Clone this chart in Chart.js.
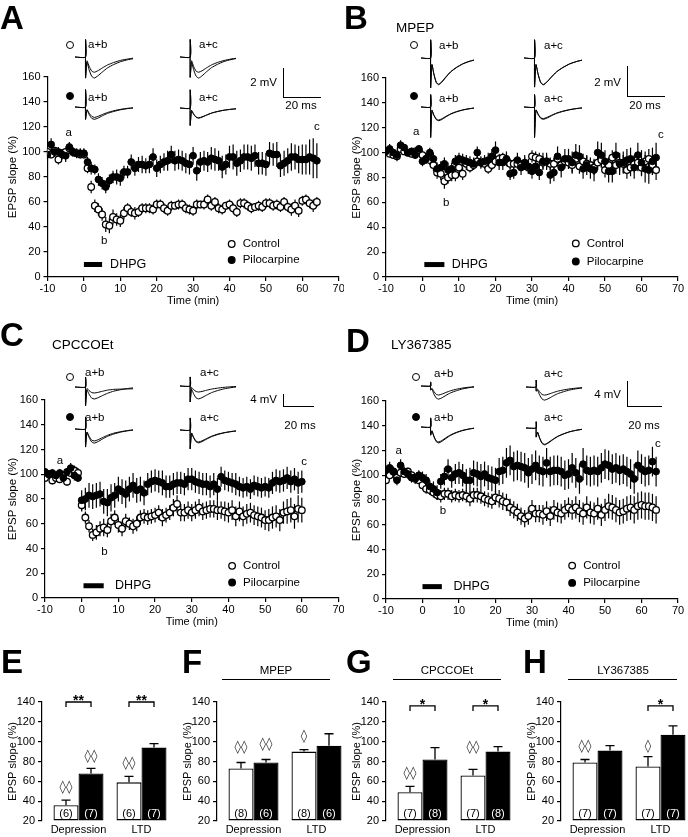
<!DOCTYPE html>
<html>
<head>
<meta charset="utf-8">
<script src="https://cdn.jsdelivr.net/npm/chart.js@4.4.0/dist/chart.umd.min.js"></script>
<style>
body { margin: 0; background: #fff; width: 688px; height: 837px; position: relative; overflow: hidden; font-family: "Liberation Sans", Arial, sans-serif; }
canvas { position: absolute; }
.txt { position: absolute; white-space: nowrap; line-height: 1; color: #000; }
.dot { position: absolute; width: 6px; height: 6px; border: 1.3px solid #000; border-radius: 50%; transform: translate(-50%, -50%); }
.bar { position: absolute; border-left: 1.3px solid #000; border-bottom: 1.3px solid #000; }
.rule { position: absolute; height: 0; border-top: 1.2px solid #000; }
</style>
</head>
<body>
<script>
// ---- time course data (min, % of baseline) ----
const TIME_MAIN = [-10,-9,-8,-7,-6,-5,-4,-3,-2,-1,0,1,2,3,4,5,6,7,8,9,10,11,12,13,14,15,16,17,18,19,20,21,22,23,24,25,26,27,28,29,30,31,32,33,34,35,36,37,38,39,40,41,42,43,44,45,46,47,48,49,50,51,52,53,54,55,56,57,58,59,60,61,62,63,64];
const TIME_C = [-10,-9,-8,-7,-6,-5,-4,-3,-2,-1,0,1,2,3,4,5,6,7,8,9,10,11,12,13,14,15,16,17,18,19,20,21,22,23,24,25,26,27,28,29,30,31,32,33,34,35,36,37,38,39,40,41,42,43,44,45,46,47,48,49,50,51,52,53,54,55,56,57,58,59,60];

const A_CTRL = [100,98,101,94,99,100,103,100,99,98, 98,87,72,57,54,50,42,41,48,46, 45,51,55,52,51,52,55,55,55,54, 58,58,55,53,57,57,58,58,55,54, 53,58,58,58,62,57,60,55,54,57, 58,55,52,59,59,57,55,56,57,56, 59,59,57,58,56,60,56,54,57,53, 61,62,59,57,60];
const A_CTRL_ERR = [3,3,3,4,3,3,3,3,3,3, 3,4,5,5,5,5,6,6,6,5, 5,5,4,4,5,4,4,4,4,4, 4,4,4,4,4,3,4,4,4,4, 4,4,3,4,4,4,4,4,4,3, 4,4,4,4,4,4,4,3,4,4, 4,4,4,4,4,4,4,5,5,5, 4,4,4,5,4];
const A_PILO = [98,106,100,100,98,97,104,100,99,99, 99,92,87,86,78,75,72,77,80,80, 79,84,84,92,87,90,90,89,90,96, 87,90,92,93,98,93,94,93,91,90, 97,85,92,93,92,95,94,93,88,90, 96,96,91,93,96,96,95,97,91,91, 90,99,98,98,89,91,93,96,96,94, 94,94,96,95,93];
const A_PILO_ERR = [4,5,4,4,4,5,4,4,4,4, 4,4,5,4,5,5,5,5,5,6, 6,5,5,6,6,6,7,6,7,7, 7,7,7,8,7,8,8,8,8,8, 7,8,8,8,8,9,9,8,9,8, 9,10,10,9,10,10,10,9,9,9, 9,9,9,10,9,10,10,11,10,11, 12,12,14,16,14];

const B_CTRL = [101,99,98,97,103,101,100,99,101,102, 98,95,94,90,84,83,77,80,82,82, 88,83,91,88,90,93,92,91,87,90, 93,95,96,94,91,91,91,90,91,88, 97,96,95,92,93,91,91,95,90,93, 92,90,95,89,93,91,90,88,92,94, 86,90,96,90,92,91,86,88,91,92, 88,93,95,90,86];
const B_CTRL_ERR = [3,3,3,4,3,3,3,3,3,3, 4,4,4,5,5,5,6,5,5,5, 6,5,5,4,4,4,4,4,4,4, 4,4,4,4,4,4,4,4,5,5, 5,5,5,5,5,5,5,5,5,5, 5,6,6,6,6,6,6,6,6,6, 6,6,6,7,7,7,7,7,7,7, 7,8,8,8,8];
const B_PILO = [101,103,100,98,106,104,100,101,98,103, 93,95,100,95,87,88,91,86,87,93, 95,94,93,92,91,100,92,93,94,97, 102,92,92,95,83,84,94,88,92,89, 85,89,84,93,93,82,84,97,88,95, 95,92,98,97,87,90,87,86,100,98, 93,85,85,98,91,92,94,95,88,98, 92,87,86,93,96];
const B_PILO_ERR = [3,4,3,3,4,3,3,3,3,3, 4,4,4,5,5,5,5,6,5,5, 5,5,5,5,5,5,5,5,6,6, 7,6,6,6,5,5,6,6,6,6, 6,6,6,7,7,7,7,8,8,8, 8,9,9,9,8,8,8,9,9,10, 9,9,9,10,9,9,9,9,9,10, 10,11,11,11,12];

const C_CTRL = [97,100,95,97,96,99,94,101,103,101, 75,65,58,51,53,56,57,55,62,65, 59,56,62,60,58,60,65,66,65,66, 67,69,65,67,69,73,76,69,69,71, 69,71,73,70,71,72,72,71,71,70, 69,71,66,70,66,68,69,67,66,65, 63,63,65,66,63,69,70,71,66,72,71];
const C_CTRL_ERR = [3,3,3,3,3,3,3,3,4,4, 5,5,5,5,6,6,7,6,6,6, 6,6,6,5,6,6,6,6,6,6, 6,6,7,6,6,7,7,7,7,7, 7,7,7,7,7,7,7,8,7,8, 8,8,8,8,8,8,8,8,8,8, 8,9,9,9,9,9,10,10,10,11,10];
const C_PILO = [102,100,101,99,101,97,102,105,99,97, 79,80,83,82,83,84,78,77,81,83, 88,86,84,88,91,87,88,85,92,94, 95,94,93,90,90,92,93,93,92,96, 96,94,93,92,92,90,92,88,98,95, 94,93,92,90,89,90,88,91,90,89, 90,89,93,95,94,95,97,94,96,93,94];
const C_PILO_ERR = [3,3,3,3,3,3,3,4,4,3, 8,9,10,10,10,10,10,11,11,10, 10,10,11,10,10,10,10,10,9,9, 9,9,10,9,9,9,9,9,9,9, 9,9,9,9,9,9,9,9,8,8, 8,8,9,8,8,8,8,8,8,8, 8,8,9,9,9,9,9,9,9,9,9];

const D_CTRL = [96,100,103,98,102,101,103,100,98,96, 92,89,88,86,84,83,85,85,83,84, 83,84,83,81,84,84,83,81,80,79, 82,81,79,78,74,72,70,67,65,67, 73,69,69,68,71,67,72,70,69,72, 74,72,74,71,69,74,70,69,73,68, 72,75,74,72,70,71,73,74,72,75, 76,75,75,74,72];
const D_CTRL_ERR = [3,3,3,3,3,3,3,3,3,3, 4,4,4,4,4,5,5,5,5,5, 5,5,5,6,6,6,6,6,6,6, 6,7,7,7,7,7,7,7,7,7, 7,7,7,8,8,8,8,8,8,8, 8,8,9,9,9,9,9,9,9,9, 9,10,10,10,10,10,10,10,11,11, 11,11,11,11,11];
const D_PILO = [104,106,103,96,108,103,101,98,97,100, 98,96,91,89,86,95,99,105,98,101, 102,100,96,96,102,101,99,101,98,97, 96,103,104,110,112,107,108,107,106,102, 105,108,104,103,110,103,104,104,103,100, 101,106,102,97,109,104,103,104,103,106, 109,108,105,106,104,105,103,101,97,108, 105,103,104,111,103];
const D_PILO_ERR = [4,5,4,4,5,4,4,4,4,4, 5,5,5,6,6,6,7,8,8,8, 9,9,9,10,10,10,10,10,10,10, 10,11,11,12,12,12,12,12,12,12, 12,12,12,12,12,12,12,12,12,12, 12,12,12,12,13,12,12,12,12,12, 12,12,12,12,12,12,12,12,12,12, 12,12,12,12,12];

const DHPG_LEVEL = 10;

// ---- example EPSP traces (ms, mV) ----
const TRACE_MS = [0, 6, 6, 6, 6.8, 8, 9.5, 11, 13, 15.5, 18.5, 22, 26, 30, 33];
const A_CTRL_AB = [[0,0,1.2,-1.45,-0.36,-0.87,-1.33,-1.45,-1.3,-1.04,-0.75,-0.52,-0.32,-0.19,-0.12],
                   [0,0,1.2,-1.45,-0.26,-0.63,-0.97,-1.05,-0.95,-0.76,-0.55,-0.38,-0.23,-0.14,-0.08]];
const A_CTRL_AC = [[0,0,1.2,-1.4,-0.36,-0.86,-1.32,-1.45,-1.3,-1.03,-0.74,-0.51,-0.31,-0.18,-0.11],
                   [0,0,1.2,-1.4,-0.26,-0.64,-0.98,-1.05,-0.95,-0.76,-0.55,-0.38,-0.24,-0.14,-0.09]];
const A_PILO_AB = [[0,0,1.2,-0.85,-0.21,-0.51,-0.78,-0.85,-0.77,-0.61,-0.44,-0.31,-0.19,-0.11,-0.07],
                   [0,0,1.2,-0.85,-0.18,-0.42,-0.64,-0.72,-0.65,-0.52,-0.38,-0.26,-0.16,-0.09,-0.06]];
const A_PILO_AC = [[0,0,1.25,-1.2,-0.18,-0.42,-0.64,-0.7,-0.63,-0.5,-0.36,-0.25,-0.15,-0.09,-0.06],
                   [0,0,1.25,-1.2,-0.17,-0.41,-0.62,-0.68,-0.61,-0.49,-0.35,-0.24,-0.15,-0.09,-0.05]];
const B_CTRL_AB = [[0,0,1.25,-2.05,-0.46,-1.11,-1.7,-1.85,-1.67,-1.33,-0.96,-0.67,-0.41,-0.24,-0.15],
                   [0,0,1.25,-2.05,-0.45,-1.08,-1.66,-1.8,-1.62,-1.3,-0.94,-0.65,-0.4,-0.23,-0.14]];
const B_CTRL_AC = [[0,0,1.25,-2.0,-0.46,-1.11,-1.7,-1.85,-1.67,-1.33,-0.96,-0.67,-0.41,-0.24,-0.15],
                   [0,0,1.25,-2.0,-0.45,-1.1,-1.68,-1.83,-1.65,-1.32,-0.95,-0.66,-0.4,-0.24,-0.15]];
const B_PILO_AB = [[0,0,0.85,-2.1,-0.24,-0.57,-0.87,-0.95,-0.86,-0.68,-0.49,-0.34,-0.21,-0.12,-0.08],
                   [0,0,0.85,-2.1,-0.23,-0.54,-0.83,-0.9,-0.81,-0.65,-0.47,-0.32,-0.2,-0.12,-0.07]];
const B_PILO_AC = [[0,0,0.85,-2.1,-0.21,-0.51,-0.78,-0.85,-0.77,-0.61,-0.44,-0.31,-0.19,-0.11,-0.07],
                   [0,0,0.85,-2.1,-0.2,-0.48,-0.74,-0.8,-0.72,-0.58,-0.42,-0.29,-0.18,-0.1,-0.06]];
const C_CTRL_AB = [[0,0,3.3,-6.3,-1.0,-2.4,-3.7,-4.0,-3.6,-2.9,-2.1,-1.4,-0.9,-0.5,-0.3],
                   [0,0,3.3,-6.3,-0.5,-1.2,-1.84,-2.0,-1.8,-1.44,-1.04,-0.8,-0.7,-0.65,-0.6]];
const C_CTRL_AC = [[0,0,3.0,-5.3,-1.08,-2.58,-3.96,-4.3,-3.87,-3.1,-2.24,-1.55,-0.95,-0.56,-0.34],
                   [0,0,3.0,-5.3,-0.5,-1.2,-1.84,-2.0,-1.8,-1.44,-1.04,-0.72,-0.44,-0.26,-0.16]];
const C_PILO_AB = [[0,0,4.0,-6.0,-1.18,-2.82,-4.32,-4.7,-4.23,-3.38,-2.44,-1.69,-1.03,-0.61,-0.38],
                   [0,0,4.0,-6.0,-1.0,-2.4,-3.7,-4.0,-3.6,-2.9,-2.1,-1.4,-0.9,-0.5,-0.3]];
const C_PILO_AC = [[0,0,4.0,-6.3,-1.08,-2.58,-3.96,-4.3,-3.87,-3.1,-2.24,-1.55,-0.95,-0.56,-0.34],
                   [0,0,4.0,-6.3,-1.0,-2.4,-3.7,-4.0,-3.6,-2.9,-2.1,-1.4,-0.9,-0.5,-0.3]];
const D_CTRL_AB = [[0,0,0.65,-0.65,-0.53,-1.26,-1.93,-2.1,-1.89,-1.51,-1.09,-0.76,-0.46,-0.27,-0.17],
                   [0,0,0.65,-0.65,-0.36,-0.87,-1.33,-1.45,-1.3,-1.04,-0.75,-0.52,-0.32,-0.19,-0.12]];
const D_CTRL_AC = [[0,0,1.1,-0.65,-0.53,-1.26,-1.93,-2.1,-1.89,-1.51,-1.09,-0.76,-0.46,-0.27,-0.17],
                   [0,0,1.1,-0.65,-0.33,-0.78,-1.2,-1.3,-1.17,-0.94,-0.68,-0.47,-0.29,-0.17,-0.1]];
const D_PILO_AB = [[0,0,1.45,-1.3,-0.64,-1.53,-2.35,-2.55,-2.3,-1.84,-1.33,-0.92,-0.56,-0.33,-0.2],
                   [0,0,1.45,-1.3,-0.6,-1.44,-2.21,-2.4,-2.16,-1.73,-1.25,-0.86,-0.53,-0.31,-0.19]];
const D_PILO_AC = [[0,0,1.0,-1.45,-0.68,-1.62,-2.48,-2.7,-2.43,-1.94,-1.4,-0.97,-0.59,-0.35,-0.22],
                   [0,0,1.0,-1.45,-0.65,-1.56,-2.39,-2.6,-2.34,-1.87,-1.35,-0.94,-0.57,-0.34,-0.21]];

// ---- summary bars (mean, SEM, n) ----
const BAR_GROUPS = ['Depression', 'LTD'];
const E_CTRL = [36, 59], E_CTRL_SEM = [5, 6], E_CTRL_N = [6, 6];
const E_PILO = [68, 94], E_PILO_SEM = [5, 4], E_PILO_N = [7, 7];
const F_CTRL = [73, 90], F_CTRL_SEM = [6, 2], F_CTRL_N = [8, 8];
const F_PILO = [79, 96], F_PILO_SEM = [3, 12], F_PILO_N = [6, 6];
const G_CTRL = [49, 66], G_CTRL_SEM = [6, 6], G_CTRL_N = [7, 7];
const G_PILO = [82, 90], G_PILO_SEM = [12, 5], G_PILO_N = [8, 8];
const H_CTRL = [79, 75], H_CTRL_SEM = [3, 10], H_CTRL_N = [7, 7];
const H_PILO = [91, 107], H_PILO_SEM = [5, 9], H_PILO_N = [7, 7];

Chart.defaults.font.family = "'Liberation Sans', Arial, sans-serif";
Chart.defaults.font.size = 11;
Chart.defaults.color = '#000';

function addCanvas(x, y, w, h) {
    const c = document.createElement('canvas');
    c.width = w; c.height = h;
    c.style.left = x + 'px'; c.style.top = y + 'px';
    c.style.width = w + 'px'; c.style.height = h + 'px';
    document.body.appendChild(c);
    return c;
}

const texts = [];
function addText(str, x, y, size, align, bold) {
    texts.push(() => {
        const el = document.createElement('div');
        el.className = 'txt';
        el.textContent = str;
        el.style.fontSize = size + 'px';
        if (bold) el.style.fontWeight = 'bold';
        el.style.left = x + 'px';
        el.style.top = y + 'px';
        const tx = align === 'center' ? '-50%' : align === 'right' ? '-100%' : '0';
        el.style.transform = `translate(${tx}, -50%)`;
        document.body.appendChild(el);
    });
}
function addDot(x, y, filled) {
    texts.push(() => {
        const el = document.createElement('div');
        el.className = 'dot';
        el.style.left = x + 'px'; el.style.top = y + 'px';
        el.style.background = filled ? '#000' : '#fff';
        document.body.appendChild(el);
    });
}
function addScaleBar(x, y1, y2, x2) {
    texts.push(() => {
        const el = document.createElement('div');
        el.className = 'bar';
        el.style.left = x + 'px'; el.style.top = y1 + 'px';
        el.style.width = (x2 - x) + 'px'; el.style.height = (y2 - y1) + 'px';
        document.body.appendChild(el);
    });
}
function addRule(x1, x2, y) {
    texts.push(() => {
        const el = document.createElement('div');
        el.className = 'rule';
        el.style.left = x1 + 'px'; el.style.top = y + 'px'; el.style.width = (x2 - x1) + 'px';
        document.body.appendChild(el);
    });
}

const pts = (xs, ys) => xs.map((x, i) => ({ x: x, y: ys[i] }));

// error bars for time courses, drawn under the markers
const errorBarPlugin = {
    id: 'errorBars',
    beforeDatasetsDraw(chart) {
        const { ctx, scales: { x, y } } = chart;
        ctx.save();
        ctx.strokeStyle = '#000';
        ctx.lineWidth = 1.2;
        chart.data.datasets.forEach(ds => {
            if (!ds.errors) return;
            ds.data.forEach((pt, j) => {
                const e = ds.errors[j];
                const px = x.getPixelForValue(pt.x);
                ctx.beginPath();
                ctx.moveTo(px, y.getPixelForValue(pt.y - e));
                ctx.lineTo(px, y.getPixelForValue(pt.y + e));
                ctx.stroke();
            });
        });
        ctx.restore();
    }
};

function timeChart(p) {
    const box = p.box, area = p.area;
    const cv = addCanvas(box.x, box.y, box.w, box.h);
    const notes = {
        id: 'notes',
        afterDatasetsDraw(chart) {
            const { ctx, scales: { x, y } } = chart;
            ctx.save();
            ctx.fillStyle = '#000';
            ctx.textBaseline = 'middle';
            ctx.font = "11.5px 'Liberation Sans', Arial";
            ctx.textAlign = 'center';
            p.marks.forEach(m => ctx.fillText(m[0], x.getPixelForValue(m[1]), y.getPixelForValue(m[2])));
            ctx.textAlign = 'left';
            ctx.font = "12.5px 'Liberation Sans', Arial";
            ctx.fillText('DHPG', x.getPixelForValue(p.dhpgLabel), y.getPixelForValue(DHPG_LEVEL));
            // legend
            ctx.font = "11.5px 'Liberation Sans', Arial";
            const lx = x.getPixelForValue(p.legend[0]);
            [['Control', p.legend[1], '#fff'], ['Pilocarpine', p.legend[2], '#000']].forEach(r => {
                const ly = y.getPixelForValue(r[1]);
                ctx.beginPath();
                ctx.arc(lx, ly, 3.3, 0, Math.PI * 2);
                ctx.fillStyle = r[2]; ctx.fill();
                ctx.lineWidth = 1.3; ctx.strokeStyle = '#000'; ctx.stroke();
                ctx.fillStyle = '#000';
                ctx.fillText(r[0], lx + 11, ly);
            });
            ctx.restore();
        }
    };
    new Chart(cv, {
        type: 'scatter',
        data: {
            datasets: [
                { label: 'Pilocarpine', data: pts(p.time, p.pilo), errors: p.piloErr, backgroundColor: '#000', borderColor: '#000', borderWidth: 1, pointRadius: 3.4, order: 0 },
                { label: 'Control', data: pts(p.time, p.ctrl), errors: p.ctrlErr, backgroundColor: '#fff', borderColor: '#000', borderWidth: 1.3, pointRadius: 3.3, order: 1 },
                { label: 'DHPG', type: 'line', data: [{ x: p.dhpg[0], y: DHPG_LEVEL }, { x: p.dhpg[1], y: DHPG_LEVEL }], borderColor: '#000', borderWidth: 5, pointRadius: 0, borderCapStyle: 'butt', order: 2 }
            ]
        },
        options: {
            responsive: false, animation: false, devicePixelRatio: 1, events: [],
            layout: { padding: { top: area.t - box.y, right: box.x + box.w - area.r, left: 0, bottom: 0 } },
            plugins: { legend: { display: false }, tooltip: { enabled: false } },
            scales: {
                x: {
                    type: 'linear', min: -10, max: 70,
                    ticks: { stepSize: 10, padding: 1, maxRotation: 0, autoSkip: false, font: { size: 11 } },
                    grid: { drawOnChartArea: false, tickLength: 4, color: '#000', lineWidth: 1.2 },
                    border: { color: '#000', width: 1.2 },
                    title: { display: true, text: 'Time (min)', font: { size: 11 }, padding: 0 },
                    afterFit: s => { s.height = box.y + box.h - area.b; s.paddingLeft = 0; s.paddingRight = 0; }
                },
                y: {
                    min: 0, max: 160,
                    ticks: { stepSize: 20, padding: 3, font: { size: 11 } },
                    grid: { drawOnChartArea: false, tickLength: 4, color: '#000', lineWidth: 1.2 },
                    border: { color: '#000', width: 1.2 },
                    title: { display: true, text: 'EPSP slope (%)', font: { size: 11.5 }, padding: { top: 6, bottom: 0 } },
                    afterFit: s => { s.width = area.l - box.x; s.paddingTop = 0; s.paddingBottom = 0; }
                }
            }
        },
        plugins: [errorBarPlugin, notes]
    });
}

function traceChart(x, base, w, pxPerMv, traces) {
    const up = 24, h = 60;
    const cv = addCanvas(x, base - up, w, h);
    new Chart(cv, {
        type: 'scatter',
        data: {
            datasets: traces.map(tr => ({
                data: pts(TRACE_MS, tr), showLine: true, pointRadius: 0,
                borderColor: '#000', borderWidth: 1, tension: 0.2, clip: false
            }))
        },
        options: {
            responsive: false, animation: false, devicePixelRatio: 1, events: [],
            layout: { padding: 0 },
            plugins: { legend: { display: false }, tooltip: { enabled: false } },
            scales: {
                x: { type: 'linear', display: false, min: 0, max: TRACE_MS[TRACE_MS.length - 1] },
                y: { display: false, min: -(h - up) / pxPerMv, max: up / pxPerMv }
            }
        }
    });
}

// bar panels: first group centre 36.5 px right of the axis, groups 63 px apart
const BAR_FIRST = 36.5, BAR_STEP = 63, BAR_WIDTH = 127, BAR_GROUP_W = 50;
function barChart(p) {
    const box = { x: p.axis - 42, y: 640, w: Math.min(170, 688 - (p.axis - 42)), h: 197 };
    const area = { l: p.axis, r: p.axis + BAR_WIDTH, t: 702, b: 821 };
    const cv = addCanvas(box.x, box.y, box.w, box.h);
    const xmin = -BAR_FIRST / BAR_STEP;
    const notes = {
        id: 'barNotes',
        afterDatasetsDraw(chart) {
            const { ctx, scales: { y } } = chart;
            const m0 = chart.getDatasetMeta(0), m1 = chart.getDatasetMeta(1);
            const sems = [p.ctrlSem, p.piloSem], ns = [p.ctrlN, p.piloN];
            ctx.save();
            ctx.strokeStyle = '#000'; ctx.lineWidth = 1.3;
            [m0, m1].forEach((m, s) => m.data.forEach((bar, g) => {
                const top = y.getPixelForValue(chart.data.datasets[s].data[g].y + sems[s][g]);
                ctx.beginPath();
                ctx.moveTo(bar.x, bar.y); ctx.lineTo(bar.x, top);
                ctx.moveTo(bar.x - 4.5, top); ctx.lineTo(bar.x + 4.5, top);
                ctx.stroke();
                ctx.fillStyle = s ? '#fff' : '#000';
                ctx.font = "11px 'Liberation Sans', Arial";
                ctx.textAlign = 'center'; ctx.textBaseline = 'middle';
                ctx.fillText('(' + ns[s][g] + ')', bar.x, y.getPixelForValue(27));
            }));
            ctx.fillStyle = '#333';
            ctx.font = "13px 'DejaVu Sans', sans-serif";
            ctx.textAlign = 'center'; ctx.textBaseline = 'middle';
            p.diamonds.forEach(d => {
                const bar = [m0, m1][d[1]].data[d[0]];
                ctx.fillText(d[3], bar.x, y.getPixelForValue(d[2]));
            });
            ctx.fillStyle = '#000';
            ctx.font = "bold 14px 'Liberation Sans', Arial";
            p.stars.forEach(st => {
                const a = m0.data[st[0]].x, b = m1.data[st[0]].x;
                const yy = y.getPixelForValue(st[1]);
                ctx.beginPath();
                ctx.moveTo(a, yy + 5); ctx.lineTo(a, yy); ctx.lineTo(b, yy); ctx.lineTo(b, yy + 5);
                ctx.stroke();
                ctx.textBaseline = 'alphabetic';
                ctx.fillText(st[2], (a + b) / 2, yy + 3);
            });
            ctx.restore();
        }
    };
    const ds = (vals, fill) => ({
        data: vals.map((v, i) => ({ x: i, y: v })), base: 20,
        backgroundColor: fill, borderColor: '#000', borderWidth: 1.3, borderSkipped: false,
        categoryPercentage: BAR_GROUP_W / BAR_STEP, barPercentage: 1, clip: false
    });
    new Chart(cv, {
        type: 'bar',
        data: { datasets: [ds(p.ctrl, '#fff'), ds(p.pilo, '#000')] },
        options: {
            responsive: false, animation: false, devicePixelRatio: 1, events: [],
            layout: { padding: { top: area.t - box.y, right: box.x + box.w - area.r, left: 0, bottom: 0 } },
            plugins: { legend: { display: false }, tooltip: { enabled: false } },
            scales: {
                x: {
                    type: 'linear', offset: false, min: xmin, max: xmin + BAR_WIDTH / BAR_STEP,
                    afterBuildTicks: s => { s.ticks = BAR_GROUPS.map((g, i) => ({ value: i })); },
                    ticks: { callback: v => BAR_GROUPS[v], padding: 2, maxRotation: 0, autoSkip: false, font: { size: 11 } },
                    grid: { display: false, drawTicks: false },
                    border: { display: false },
                    afterFit: s => { s.height = box.y + box.h - area.b; s.paddingLeft = 0; s.paddingRight = 0; }
                },
                y: {
                    min: 20, max: 140,
                    ticks: { stepSize: 20, padding: 3, font: { size: 11 } },
                    grid: { drawOnChartArea: false, tickLength: 4, color: '#000', lineWidth: 1.2 },
                    border: { color: '#000', width: 1.2 },
                    title: { display: true, text: 'EPSP slope (%)', font: { size: 11 }, padding: { top: 6, bottom: 0 } },
                    afterFit: s => { s.width = area.l - box.x; s.paddingTop = 0; s.paddingBottom = 0; }
                }
            }
        },
        plugins: [notes]
    });
}

// ---- panels A-D ----
timeChart({ box: { x: 0, y: 0, w: 344, h: 308 }, area: { l: 47.5, r: 341.5, t: 77, b: 277 },
    time: TIME_MAIN, ctrl: A_CTRL, ctrlErr: A_CTRL_ERR, pilo: A_PILO, piloErr: A_PILO_ERR,
    dhpg: [0, 5], dhpgLabel: 7.2, legend: [40.6, 26.4, 13.6],
    marks: [['a', -4.2, 115], ['b', 5.6, 29], ['c', 64, 120]] });
timeChart({ box: { x: 344, y: 0, w: 344, h: 308 }, area: { l: 386, r: 678, t: 78, b: 277 },
    time: TIME_MAIN, ctrl: B_CTRL, ctrlErr: B_CTRL_ERR, pilo: B_PILO, piloErr: B_PILO_ERR,
    dhpg: [0.5, 6], dhpgLabel: 8, legend: [42, 27, 12.5],
    marks: [['a', -1.7, 117], ['b', 6.5, 60], ['c', 65.3, 114]] });
timeChart({ box: { x: 0, y: 300, w: 344, h: 329 }, area: { l: 45, r: 338.5, t: 400, b: 598 },
    time: TIME_C, ctrl: C_CTRL, ctrlErr: C_CTRL_ERR, pilo: C_PILO, piloErr: C_PILO_ERR,
    dhpg: [0.5, 6], dhpgLabel: 9.1, legend: [41, 26, 12.5],
    marks: [['a', -5.9, 111], ['b', 6.2, 37], ['c', 60.6, 110]] });
timeChart({ box: { x: 344, y: 300, w: 344, h: 330 }, area: { l: 386, r: 678, t: 401, b: 599 },
    time: TIME_MAIN, ctrl: D_CTRL, ctrlErr: D_CTRL_ERR, pilo: D_PILO, piloErr: D_PILO_ERR,
    dhpg: [0, 5.3], dhpgLabel: 8.5, legend: [41, 27, 13],
    marks: [['a', -6.5, 120], ['b', 5.6, 71], ['c', 64.5, 125]] });

// ---- inset traces ----
traceChart(75, 57, 58, 14.5, A_CTRL_AB);
traceChart(180, 57, 56, 14.5, A_CTRL_AC);
traceChart(75, 107, 58, 14.5, A_PILO_AB);
traceChart(180, 108, 56, 14.5, A_PILO_AC);
traceChart(421, 58, 53, 14.5, B_CTRL_AB);
traceChart(524, 58, 58, 14.5, B_CTRL_AC);
traceChart(421, 107, 53, 14.5, B_PILO_AB);
traceChart(524, 107, 58, 14.5, B_PILO_AC);
traceChart(75, 387, 58, 3, C_CTRL_AB);
traceChart(180, 386, 56, 3, C_CTRL_AC);
traceChart(75, 429, 58, 3, C_PILO_AB);
traceChart(180, 430, 56, 3, C_PILO_AC);
traceChart(421, 386, 53, 6.25, D_CTRL_AB);
traceChart(526, 387, 56, 6.25, D_CTRL_AC);
traceChart(421, 427, 53, 6.25, D_PILO_AB);
traceChart(526, 428, 56, 6.25, D_PILO_AC);

// ---- panels E-H ----
barChart({ axis: 42, ctrl: E_CTRL, ctrlSem: E_CTRL_SEM, ctrlN: E_CTRL_N, pilo: E_PILO, piloSem: E_PILO_SEM, piloN: E_PILO_N,
    diamonds: [[0, 0, 54, '◊◊'], [0, 1, 85, '◊◊'], [1, 0, 78, '◊◊']], stars: [[0, 140, '**'], [1, 140, '**']] });
barChart({ axis: 217, ctrl: F_CTRL, ctrlSem: F_CTRL_SEM, ctrlN: F_CTRL_N, pilo: F_PILO, piloSem: F_PILO_SEM, piloN: F_PILO_N,
    diamonds: [[0, 0, 94, '◊◊'], [0, 1, 97, '◊◊'], [1, 0, 105, '◊']], stars: [] });
barChart({ axis: 386, ctrl: G_CTRL, ctrlSem: G_CTRL_SEM, ctrlN: G_CTRL_N, pilo: G_PILO, piloSem: G_PILO_SEM, piloN: G_PILO_N,
    diamonds: [[0, 0, 68, '◊◊'], [1, 0, 94, '◊◊']], stars: [[0, 136, '*'], [1, 136, '*']] });
barChart({ axis: 561, ctrl: H_CTRL, ctrlSem: H_CTRL_SEM, ctrlN: H_CTRL_N, pilo: H_PILO, piloSem: H_PILO_SEM, piloN: H_PILO_N,
    diamonds: [[0, 0, 95, '◊◊'], [1, 0, 95, '◊']], stars: [[1, 136, '*']] });

// ---- labels, inset markers, scale bars ----
addText('A', 0, 17, 33, 'left', true);
addText('B', 344, 17, 33, 'left', true);
addText('C', 0, 334, 33, 'left', true);
addText('D', 346, 340, 33, 'left', true);
addText('E', 1, 661, 33, 'left', true);
addText('F', 182, 661, 33, 'left', true);
addText('G', 346, 661, 33, 'left', true);
addText('H', 523, 661, 33, 'left', true);

addText('MPEP', 396, 28, 13.5, 'left');
addText('CPCCOEt', 52, 345, 13.5, 'left');
addText('LY367385', 391, 345, 13.5, 'left');

addText('MPEP', 276, 671, 11.5, 'center'); addRule(222, 330, 679);
addText('CPCCOEt', 447, 671, 11.5, 'center'); addRule(393, 501, 679);
addText('LY367385', 623, 671, 11.5, 'center'); addRule(568, 677, 679);

[[0, 0, 70, 45, 96, 88, 199, 45, 98], [344, 0, 414, 45, 96, 439, 544, 46, 99],
 [0, 300, 70, 377, 417, 85, 200, 373, 418], [344, 300, 416, 377, 417, 434, 544, 374, 418]].forEach(r => {
    addDot(r[2], r[3], false);
    addDot(r[2], r[4], true);
    addText('a+b', r[5], r[7], 11.5, 'left');
    addText('a+c', r[6], r[7], 11.5, 'left');
    addText('a+b', r[5], r[8], 11.5, 'left');
    addText('a+c', r[6], r[8], 11.5, 'left');
});

addScaleBar(283, 68, 97, 320); addText('2 mV', 277, 83, 11.5, 'right'); addText('20 ms', 301, 106, 11.5, 'center');
addScaleBar(627, 66, 96, 664); addText('2 mV', 621, 83, 11.5, 'right'); addText('20 ms', 645, 106, 11.5, 'center');
addScaleBar(283, 394, 406, 313); addText('4 mV', 277, 400, 11.5, 'right'); addText('20 ms', 300, 426, 11.5, 'center');
addScaleBar(627, 381, 406, 661); addText('4 mV', 621, 395, 11.5, 'right'); addText('20 ms', 644, 426, 11.5, 'center');

texts.forEach(f => f());
</script>
</body>
</html>
